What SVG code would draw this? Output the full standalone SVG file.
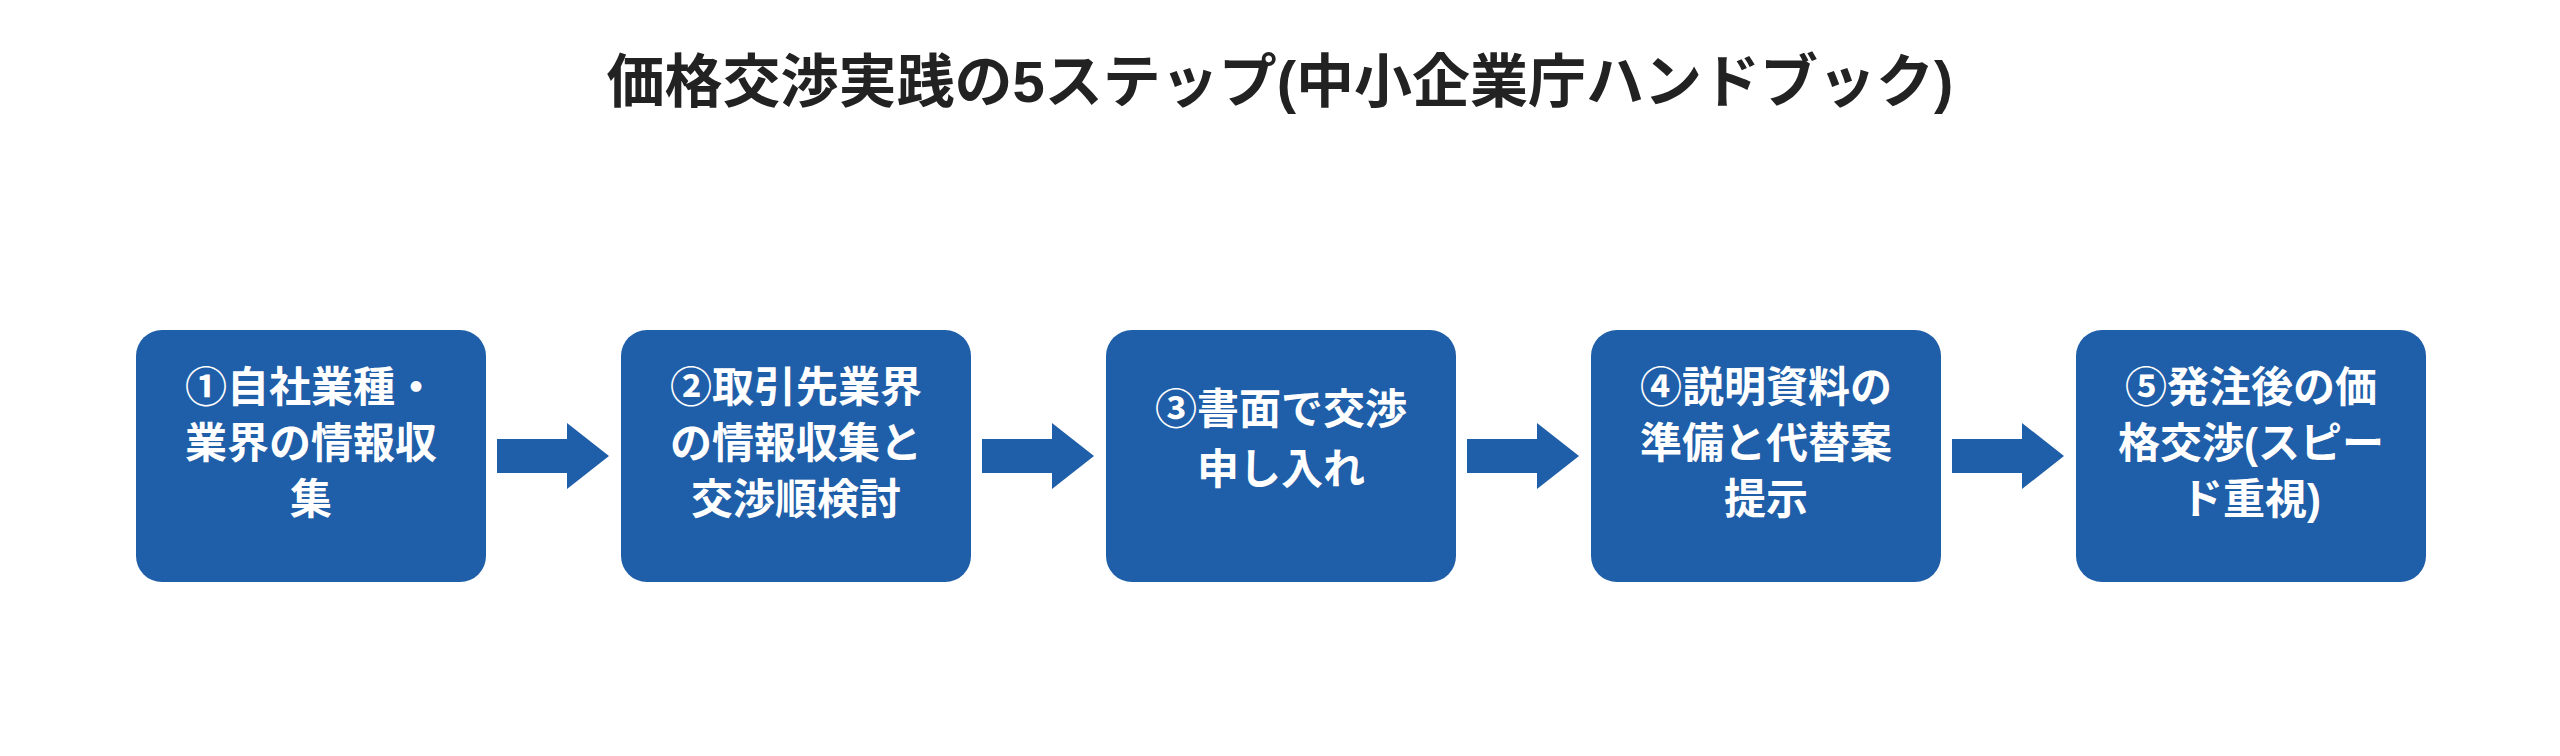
<svg xmlns="http://www.w3.org/2000/svg" width="2560" height="756" viewBox="0 0 2560 756">
<style>
.box{fill:#1f5ea8}
.t{font-family:"Liberation Sans","Noto Sans CJK JP",sans-serif;font-weight:bold;fill:#fff;font-size:42px;text-anchor:middle}
.title{font-family:"Liberation Sans","Noto Sans CJK JP",sans-serif;font-weight:bold;fill:#222;font-size:58px;text-anchor:middle}
.arr{fill:#1f5ea8}
</style>
<rect width="2560" height="756" fill="#fff"/>
<text class="title" x="1280" y="102">価格交渉実践の5ステップ(中小企業庁ハンドブック)</text>
<g id="n1"><rect class="box" x="136" y="330" width="350" height="252" rx="26"/>
<text class="t" x="311" y="402">①自社業種・</text><text class="t" x="311" y="458">業界の情報収</text><text class="t" x="311" y="514">集</text></g>
<g id="n2"><rect class="box" x="621" y="330" width="350" height="252" rx="26"/>
<text class="t" x="796" y="402">②取引先業界</text><text class="t" x="796" y="458">の情報収集と</text><text class="t" x="796" y="514">交渉順検討</text></g>
<g id="n3"><rect class="box" x="1106" y="330" width="350" height="252" rx="26"/>
<text class="t" x="1281" y="424">③書面で交渉</text><text class="t" x="1281" y="484">申し入れ</text></g>
<g id="n4"><rect class="box" x="1591" y="330" width="350" height="252" rx="26"/>
<text class="t" x="1766" y="402">④説明資料の</text><text class="t" x="1766" y="458">準備と代替案</text><text class="t" x="1766" y="514">提示</text></g>
<g id="n5"><rect class="box" x="2076" y="330" width="350" height="252" rx="26"/>
<text class="t" x="2251" y="402">⑤発注後の価</text><text class="t" x="2251" y="458">格交渉(スピー</text><text class="t" x="2251" y="514">ド重視)</text></g>
<g id="connectors">
<polygon class="arr" points="497,439 567,439 567,423 609,456 567,489 567,473 497,473"/>
<polygon class="arr" points="982,439 1052,439 1052,423 1094,456 1052,489 1052,473 982,473"/>
<polygon class="arr" points="1467,439 1537,439 1537,423 1579,456 1537,489 1537,473 1467,473"/>
<polygon class="arr" points="1952,439 2022,439 2022,423 2064,456 2022,489 2022,473 1952,473"/>
</g>
</svg>
